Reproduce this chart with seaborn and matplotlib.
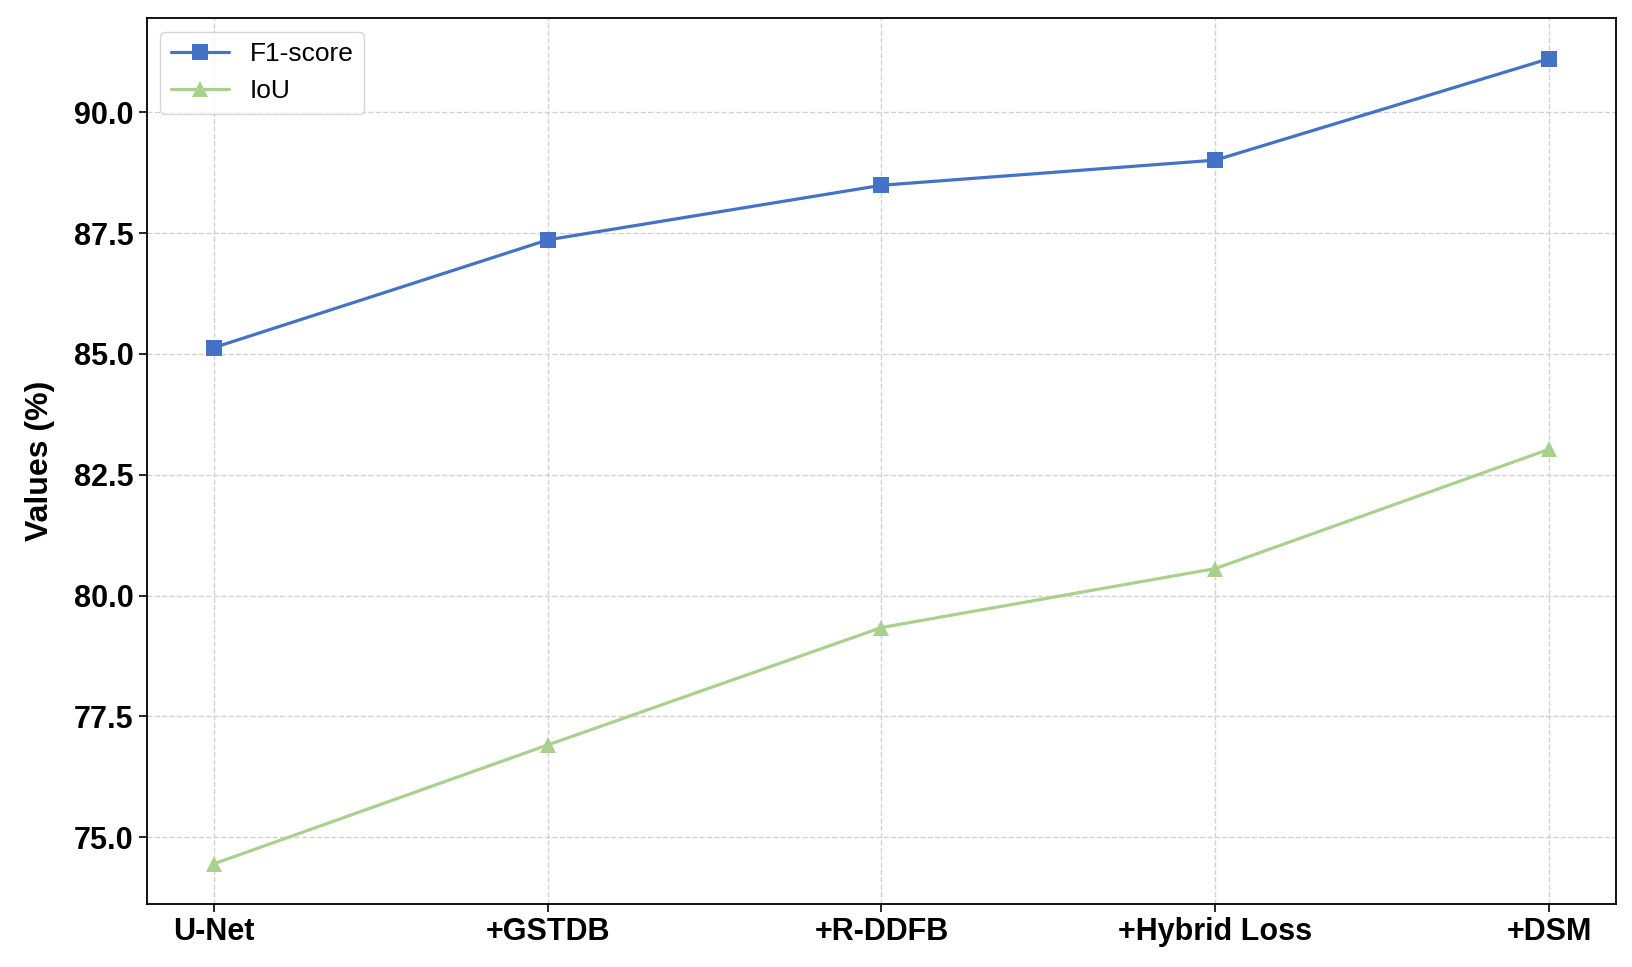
import pandas as pd
import numpy as np
import seaborn as sns
from matplotlib import pyplot as plt

# ablation steps and scores (%)
stages = ['U-Net', '+GSTDB', '+R-DDFB', '+Hybrid Loss', '+DSM']
f1_score = [85.13, 87.36, 88.49, 89.01, 91.11]
iou = [74.45, 76.91, 79.34, 80.56, 83.03]

sns.set_style("ticks")
plt.rcParams['font.family'] = ['Liberation Sans', 'DejaVu Sans']
plt.rcParams['text.color'] = 'black'
plt.rcParams['axes.labelcolor'] = 'black'
plt.rcParams['xtick.color'] = 'black'
plt.rcParams['ytick.color'] = 'black'

fig, ax = plt.subplots(figsize=(16.33, 9.67), dpi=100)

sns.lineplot(x=stages, y=f1_score, ax=ax, color='#4472C4', marker='s',
             markersize=11, markeredgewidth=0, linewidth=2.3, label='F1-score', sort=False)
sns.lineplot(x=stages, y=iou, ax=ax, color='#A9D18E', marker='^',
             markersize=12, markeredgewidth=0, linewidth=2.3, label='IoU', sort=False)

ax.set_ylabel('Values (%)', fontsize=23, fontweight='bold', labelpad=14)
ax.set_xlabel('')
ax.grid(True, linestyle='--', color='#cccccc', linewidth=1.0, alpha=0.9)
ax.tick_params(axis='both', labelsize=22, length=6, width=1.2, color='black', labelcolor='black')
for lab in ax.get_xticklabels() + ax.get_yticklabels():
    lab.set_fontweight('bold')
ax.yaxis.set_major_formatter(plt.FormatStrFormatter('%.1f'))
for sp in ax.spines.values():
    sp.set_visible(True)
    sp.set_color('black')
    sp.set_linewidth(1.3)

leg = ax.legend(loc='upper left', fontsize=19, frameon=True, fancybox=True,
                borderpad=0.4, labelspacing=0.5, handlelength=2.2)
leg.get_frame().set_edgecolor('#cccccc')
for t in leg.get_texts():
    t.set_color('black')

plt.subplots_adjust(left=0.09, right=0.9896, top=0.981, bottom=0.065)
plt.savefig('out.png', dpi=100)
